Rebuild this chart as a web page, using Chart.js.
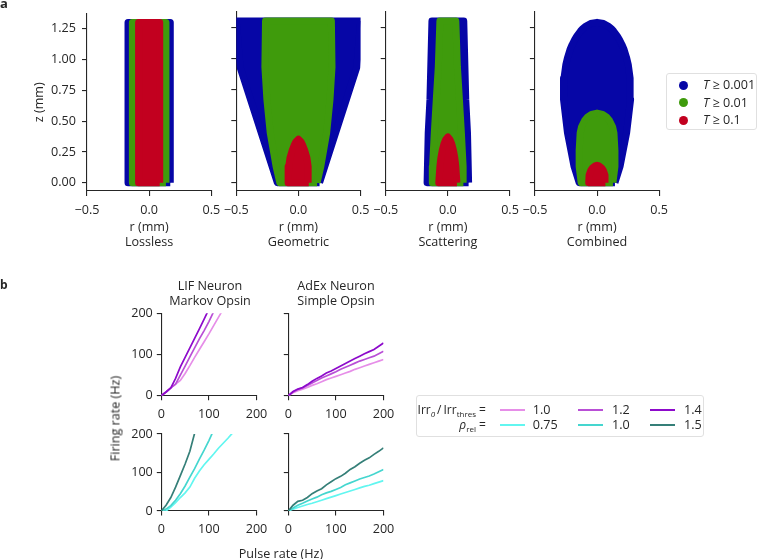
<!DOCTYPE html>
<html lang="en">
<head>
<meta charset="UTF-8">
<title>Transmittance and firing rates</title>
<style>
  body { margin: 0; background: #fff; font-family: "Open Sans", sans-serif; color: #262626; }
  #wrap { position: relative; width: 763px; height: 559px; overflow: hidden; }
  #wrap canvas { position: absolute; left: 0; top: 0; }
  .txt { position: absolute; font-size: 12.6px; line-height: 15px; white-space: nowrap; }
  .center { text-align: center; }
  .panel { position: absolute; font-weight: bold; }
  .legend { position: absolute; border: 1px solid #e0e0e0; border-radius: 3px; background: #fff; box-sizing: border-box; }
  .legend span { position: absolute; font-size: 12.6px; line-height: 15px; white-space: nowrap; }
  .legend span.row { font-size: 12px; }
  .dot { width: 9px; height: 9px; border-radius: 50%; }
  .swatch { height: 2px; }
  sub { font-size: 8px; vertical-align: -3px; line-height: 0; }
</style>
</head>
<body>
<div id="wrap"></div>

<script src="https://cdn.jsdelivr.net/npm/chart.js@4.4.1/dist/chart.umd.min.js"></script>
<script>

// ---- panel a: region above each transmittance threshold ----
// z (mm) of the sampled rows and the half-width r (mm) of the outermost sampled point
const panelNames = ['Lossless', 'Geometric', 'Scattering', 'Combined'];
const thresholds = ['0.001', '0.01', '0.1'];
const rTicks = [-0.5, 0, 0.5];
const zTicks = [0, 0.25, 0.5, 0.75, 1.0, 1.25];

const losslessZ = [0, 1.3];
const losslessBlue = [0.17, 0.17];
const losslessGreen = [0.135, 0.135];
const losslessRed = [0.085, 0.085];

const geoBlueZ = [0, 0.93, 1.3];
const geoBlueR = [0.17, 0.47, 0.5];
const geoGreenZ = [0, 0.13, 0.4, 0.67, 0.93, 1.3];
const geoGreenR = [0.15, 0.18, 0.227, 0.254, 0.27, 0.265];
const geoRedZ = [0, 0.13, 0.2, 0.26, 0.3, 0.33, 0.35];
const geoRedR = [0.083, 0.078, 0.068, 0.05, 0.035, 0.02, 0];

const scatBlueZ = [0, 0.4, 0.67, 1.3];
const scatBlueR = [0.167, 0.158, 0.144, 0.128];
const scatGreenZ = [0, 0.13, 0.4, 0.67, 0.93, 1.3];
const scatGreenR = [0.125, 0.123, 0.109, 0.093, 0.077, 0.064];
const scatRedZ = [0, 0.13, 0.2, 0.26, 0.31, 0.345, 0.367];
const scatRedR = [0.073, 0.064, 0.056, 0.045, 0.032, 0.018, 0];

const combBlueZ = [0, 0.13, 0.4, 0.67, 0.84, 0.95, 1.0, 1.07, 1.11, 1.15, 1.18, 1.22, 1.24, 1.26, 1.28, 1.29];
const combBlueR = [0.144, 0.185, 0.238, 0.27, 0.266, 0.251, 0.239, 0.218, 0.201, 0.181, 0.163, 0.133, 0.114, 0.089, 0.052, 0];
const combGreenZ = [0, 0.13, 0.26, 0.4, 0.45, 0.5, 0.53, 0.55, 0.56];
const combGreenR = [0.128, 0.144, 0.144, 0.136, 0.125, 0.1, 0.075, 0.045, 0];
const combRedZ = [0, 0.06, 0.1, 0.12, 0.135, 0.14];
const combRedR = [0.067, 0.064, 0.05, 0.036, 0.015, 0];

// ---- panel b: firing rate (Hz) vs pulse rate (Hz) ----
const pulseRate = [0, 10, 20, 30, 40, 50, 60, 70, 80, 90, 100, 110, 120, 130, 140, 150, 160, 170, 180, 190, 200];
const rateTicks = [0, 100, 200];
const irrLabels = ['1.0', '1.2', '1.4'];
const rhoLabels = ['0.75', '1.0', '1.5'];

const lifIrr10 = [0, 9, 19, 28, 37, 54, 73, 93, 112, 131, 150, 170, 190, 210];
const lifIrr12 = [0, 9, 19, 28, 50, 72, 94, 116, 138, 158, 180, 204];
const lifIrr14 = [0, 9, 19, 42, 70, 93, 116, 139, 162, 186, 210];

const adexIrr10 = [0, 7, 12, 16, 20, 25, 29, 34, 39, 43, 47, 51, 55, 59, 64, 68, 72, 76, 80, 84, 88];
const adexIrr12 = [0, 9, 15, 19, 25, 31, 37, 43, 48, 53, 58, 64, 69, 74, 79, 84, 88, 92, 96, 102, 108];
const adexIrr14 = [0, 10, 16, 20, 27, 35, 42, 48, 55, 60, 66, 72, 78, 84, 90, 96, 102, 107, 112, 120, 128];

const lifRho075 = [0, 0, 10, 22, 35, 47, 62, 85, 104, 120, 134, 148, 163, 176, 189, 203];
const lifRho10 = [0, 5, 14, 28, 45, 65, 88, 110, 135, 158, 183, 210];
const lifRho15 = [0, 15, 35, 62, 92, 122, 155, 202];

const adexRho075 = [0, 5, 9, 13, 17, 20, 24, 28, 32, 36, 40, 44, 48, 52, 56, 60, 64, 67, 71, 75, 79];
const adexRho10 = [0, 8, 15, 20, 26, 31, 36, 42, 47, 51, 56, 61, 68, 73, 78, 83, 87, 91, 96, 102, 108];
const adexRho15 = [0, 15, 25, 28, 35, 45, 52, 58, 68, 76, 84, 90, 98, 108, 115, 124, 132, 138, 147, 155, 164];

// ---- styling ----
const W = 763, H = 559;
const levelColors = ['#0606a6', '#3f9b0c', '#c2001f'];
const irrColors = ['#e68ee8', '#b94fd6', '#8d0acb'];
const rhoColors = ['#62f6f0', '#45d6cf', '#357f78'];
const axisColor = '#262626';
const textColor = '#262626';

Chart.defaults.font.family = "'Open Sans', sans-serif";
Chart.defaults.font.size = 12.6;
Chart.defaults.color = textColor;

const wrap = document.getElementById('wrap');

function newCanvas() {
    const c = document.createElement('canvas');
    c.width = W;
    c.height = H;
    wrap.appendChild(c);
    return c;
}

function fmtR(v) {
    return v < 0 ? '\u2212' + Math.abs(v).toFixed(1) : v.toFixed(1);
}

// closed outline: right side going up, mirrored left side going down
function outline(z, r) {
    const pts = [];
    for (let i = 0; i < z.length; i++) pts.push({x: r[i], y: z[i]});
    for (let i = z.length - 1; i >= 0; i--) pts.push({x: -r[i], y: z[i]});
    pts.push({x: r[0], y: z[0]});
    return pts;
}

function curve(values) {
    return values.map((v, i) => ({x: pulseRate[i], y: v}));
}

function axis(min, max, tickValues, tickLength, extra) {
    return Object.assign({
        type: 'linear', min: min, max: max,
        afterBuildTicks: s => { s.ticks = tickValues.map(v => ({value: v})); },
        grid: {drawOnChartArea: false, drawTicks: true, tickLength: tickLength, color: axisColor, lineWidth: 1.1},
        border: {display: true, color: axisColor, width: 1.1}
    }, extra);
}

// ---- panel a ----
const shapes = [
    [[losslessZ, losslessRed], [losslessZ, losslessGreen], [losslessZ, losslessBlue]],
    [[geoRedZ, geoRedR], [geoGreenZ, geoGreenR], [geoBlueZ, geoBlueR]],
    [[scatRedZ, scatRedR], [scatGreenZ, scatGreenR], [scatBlueZ, scatBlueR]],
    [[combRedZ, combRedR], [combGreenZ, combGreenR], [combBlueZ, combBlueR]]
];
const topLeft = [87, 236.3, 385.7, 534.9];
const topWidth = 124.3;
const topTop = 12, topBottom = 191, topAxisH = 59;
const zMin = -0.067, zMax = 1.373;

panelNames.forEach((name, i) => {
    const yw = i === 0 ? 55 : 5;
    new Chart(newCanvas(), {
        type: 'scatter',
        data: {
            datasets: shapes[i].map((s, k) => ({
                data: outline(s[0], s[1]),
                showLine: true,
                fill: 'shape',
                backgroundColor: levelColors[2 - k],
                borderColor: levelColors[2 - k],
                borderWidth: 7,
                borderJoinStyle: 'round',
                pointRadius: 0,
                tension: 0,
                clip: 0
            }))
        },
        options: {
            responsive: false,
            animation: false,
            devicePixelRatio: 1,
            events: [],
            layout: {padding: {left: topLeft[i] - yw, right: W - topLeft[i] - topWidth, top: topTop, bottom: H - topBottom - topAxisH}},
            plugins: {legend: {display: false}, tooltip: {enabled: false}, filler: {drawTime: 'beforeDatasetDraw'}},
            scales: {
                x: axis(-0.5, 0.5, rTicks, 5, {
                    afterFit: s => { s.height = topAxisH; },
                    ticks: {padding: 6.5, color: textColor, maxRotation: 0, autoSkip: false, callback: v => fmtR(v)},
                    title: {display: true, text: ['r (mm)', name], padding: 0, color: textColor}
                }),
                y: axis(zMin, zMax, zTicks, 5, {
                    afterFit: s => { s.width = yw; },
                    ticks: {display: i === 0, padding: 6, color: textColor, autoSkip: false, callback: v => v.toFixed(2)},
                    title: {display: i === 0, text: 'z (mm)', padding: 0, color: textColor}
                })
            }
        }
    });
});

// ---- panel b ----
const rateCharts = [
    {left: 161.3, top: 313.3, bottom: 395.7, series: [lifIrr10, lifIrr12, lifIrr14], colors: irrColors, yLabels: true},
    {left: 288.3, top: 313.3, bottom: 395.7, series: [adexIrr10, adexIrr12, adexIrr14], colors: irrColors, yLabels: false},
    {left: 161.3, top: 434, bottom: 511, series: [lifRho075, lifRho10, lifRho15], colors: rhoColors, yLabels: true},
    {left: 288.3, top: 434, bottom: 511, series: [adexRho075, adexRho10, adexRho15], colors: rhoColors, yLabels: false}
];
const rateWidth = 95.2, rateAxisH = 30;

rateCharts.forEach(p => {
    const yw = p.yLabels ? 40 : 5;
    new Chart(newCanvas(), {
        type: 'scatter',
        data: {
            datasets: p.series.map((vals, k) => ({
                data: curve(vals),
                showLine: true,
                borderColor: p.colors[k],
                backgroundColor: p.colors[k],
                borderWidth: 1.7,
                pointRadius: 0,
                tension: 0,
                clip: 0,
                order: 3 - k
            }))
        },
        options: {
            responsive: false,
            animation: false,
            devicePixelRatio: 1,
            events: [],
            layout: {padding: {left: p.left - yw, right: W - p.left - rateWidth, top: p.top, bottom: H - p.bottom - rateAxisH}},
            plugins: {legend: {display: false}, tooltip: {enabled: false}},
            scales: {
                x: axis(0, 200, rateTicks, 4.5, {
                    afterFit: s => { s.height = rateAxisH; },
                    ticks: {padding: 6.5, color: textColor, maxRotation: 0, autoSkip: false}
                }),
                y: axis(0, 200, rateTicks, 4.5, {
                    afterFit: s => { s.width = yw; },
                    ticks: {display: p.yLabels, padding: 4, color: textColor, autoSkip: false}
                })
            }
        }
    });
});

// ---- text and legends ----
function addText(html, css, cls) {
    const d = document.createElement('div');
    d.className = cls || 'txt';
    d.innerHTML = html;
    Object.assign(d.style, css);
    wrap.appendChild(d);
    return d;
}

addText('a', {left: '0px', top: '-3.5px', fontSize: '13px', lineHeight: '13px'}, 'panel');
addText('b', {left: '0px', top: '278.6px', fontSize: '12px', lineHeight: '12px'}, 'panel');
addText('LIF Neuron<br>Markov Opsin', {left: '150px', width: '120px', top: '277.5px'}, 'txt center');
addText('AdEx Neuron<br>Simple Opsin', {left: '276px', width: '120px', top: '277.5px'}, 'txt center');
addText('Pulse rate (Hz)', {left: '221px', width: '120px', top: '545.5px'}, 'txt center');
addText('Firing rate (Hz)', {left: '55px', width: '120px', top: '410.5px', transform: 'rotate(-90deg)'}, 'txt center');

// threshold legend
const legA = addText('', {left: '666px', top: '73px', width: '91px', height: '57px'}, 'legend');
thresholds.forEach((t, k) => {
    const cy = 11 + k * 17.5;
    const dot = document.createElement('span');
    dot.className = 'dot';
    Object.assign(dot.style, {left: '11.5px', top: (cy - 4.5) + 'px', background: levelColors[k]});
    legA.appendChild(dot);
    const lab = document.createElement('span');
    lab.innerHTML = '<i>T</i> \u2265 ' + t;
    Object.assign(lab.style, {left: '36px', top: (cy - 8) + 'px'});
    legA.appendChild(lab);
});

// line legend
const legB = addText('', {left: '415.7px', top: '395px', width: '288.6px', height: '41.7px'}, 'legend');
const rowNames = ['Irr<sub><i>0</i></sub>\u2009/\u2009Irr<sub>thres</sub> =', '<i>\u03c1</i><sub>rel</sub> ='];
const rowLabels = [irrLabels, rhoLabels];
const rowColors = [irrColors, rhoColors];
const colLine = [83.3, 161, 233.6];
const colText = [116, 195.3, 267.3];
rowNames.forEach((nm, r) => {
    const cy = 14.3 + r * 15;
    const lab = document.createElement('span');
    lab.className = 'row';
    lab.innerHTML = nm;
    Object.assign(lab.style, {right: (288.6 - 71.3) + 'px', top: (cy - 8) + 'px'});
    legB.appendChild(lab);
    rowLabels[r].forEach((v, c) => {
        const sw = document.createElement('span');
        sw.className = 'swatch';
        Object.assign(sw.style, {left: colLine[c] + 'px', top: (cy - 1) + 'px', width: '25px', background: rowColors[r][c]});
        legB.appendChild(sw);
        const t = document.createElement('span');
        t.textContent = v;
        Object.assign(t.style, {left: colText[c] + 'px', top: (cy - 8) + 'px'});
        legB.appendChild(t);
    });
});
</script>
</body>
</html>
